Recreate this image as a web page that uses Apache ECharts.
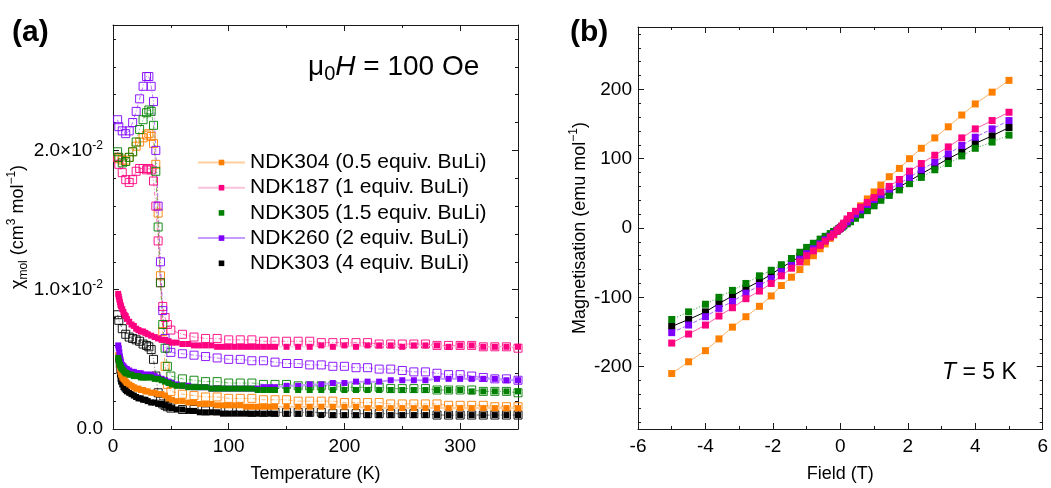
<!DOCTYPE html>
<html><head><meta charset="utf-8">
<script src="https://cdn.jsdelivr.net/npm/echarts@6/dist/echarts.min.js"></script>
<style>html,body{margin:0;padding:0;background:#fff}#c{width:1051px;height:488px}</style>
</head><body><div id="c"></div>
<script>
// ---------- DATA ----------
const sampleNames = ['NDK304 (0.5 equiv. BuLi)','NDK187 (1 equiv. BuLi)','NDK305 (1.5 equiv. BuLi)','NDK260 (2 equiv. BuLi)','NDK303 (4 equiv. BuLi)'];
const sampleColors = ['#ff8000','#ff0080','#008000','#8000ff','#000000'];
const sampleLight = ['#ffcf9e','#f7c4da','#ffffff','#c49bff','#ffffff'];

// panel (a): filled squares
const tempFilled = [4.5,5,5.5,6,6.5,7,8,9,10,11,12,14,16,18,20,22,24,26,28,30,33,36,39,42,45,48,51,55,60,65,70,75,80,85,90,95,100,105,110,115,120,125,130,135,140,150,160,170,180,190,200,210,220,230,240,250,260,270,280,290,300,310,320,330,340,350];
const chiFilled304 = [.0053,.0050,.0046,.0043,.0041,.0039,.0037,.0036,.0035,.0034,.0033,.0032,.0031,.0030,.0029,.0029,.0028,.0028,.0027,.0027,.0026,.0026,.0025,.0025,.0024,.0022,.0021,.0020,.0020,.0019,.0019,.0018,.0018,.0018,.0017,.0017,.0017,.0017,.0017,.0016,.0016,.0016,.0016,.0016,.0016,.0016,.0016,.0016,.0016,.0016,.0016,.0016,.0015,.0015,.0015,.0015,.0015,.0015,.0015,.0015,.0015,.0015,.0015,.0015,.0015,.0015];
const chiFilled187 = [.0097,.0095,.0093,.0091,.0089,.0088,.0086,.0084,.0082,.0081,.0079,.0077,.0075,.0074,.0072,.0071,.0070,.0070,.0069,.0068,.0067,.0066,.0065,.0064,.0064,.0063,.0062,.0062,.0061,.0061,.0060,.0060,.0060,.0060,.0059,.0059,.0059,.0059,.0059,.0059,.0059,.0059,.0059,.0059,.0059,.0059,.0059,.0059,.0060,.0059,.0060,.0059,.0060,.0060,.0060,.0059,.0060,.0060,.0060,.0059,.0060,.0060,.0059,.0059,.0059,.0059];
const chiFilled305 = [.0051,.0049,.0047,.0046,.0045,.0044,.0043,.0042,.0041,.0040,.0040,.0039,.0039,.0038,.0038,.0038,.0037,.0037,.0037,.0037,.0037,.0036,.0036,.0035,.0034,.0033,.0032,.0031,.0031,.0030,.0030,.0030,.0030,.0029,.0029,.0029,.0029,.0029,.0029,.0029,.0029,.0028,.0028,.0028,.0028,.0028,.0028,.0028,.0028,.0028,.0028,.0028,.0028,.0028,.0028,.0028,.0028,.0028,.0028,.0028,.0028,.0027,.0027,.0027,.0027,.0027];
const chiFilled260 = [.0060,.0058,.0055,.0052,.0050,.0048,.0046,.0045,.0044,.0043,.0043,.0042,.0041,.0041,.0040,.0040,.0040,.0039,.0039,.0039,.0039,.0038,.0037,.0036,.0035,.0034,.0033,.0032,.0031,.0031,.0030,.0030,.0030,.0029,.0029,.0029,.0029,.0029,.0029,.0029,.0029,.0029,.0030,.0030,.0030,.0031,.0031,.0032,.0032,.0033,.0033,.0034,.0034,.0034,.0035,.0035,.0035,.0035,.0036,.0036,.0036,.0036,.0036,.0036,.0035,.0035];
const chiFilled303 = [.0050,.0046,.0042,.0039,.0036,.0034,.0032,.0030,.0029,.0028,.0027,.0026,.0025,.0024,.0023,.0022,.0022,.0021,.0021,.0020,.0019,.0019,.0018,.0018,.0017,.0016,.0015,.0014,.0014,.0013,.0013,.0012,.0012,.0012,.0012,.0011,.0011,.0011,.0011,.0011,.0011,.0011,.0011,.0011,.0011,.0011,.0011,.0011,.0010,.0010,.0010,.0010,.0010,.0010,.0010,.0010,.0010,.0010,.0010,.0010,.0010,.0010,.0010,.0010,.0010,.0010];

// panel (a): open squares
const tempOpen = [4,5,8,11,14,17,20,23,26,29,31,33,35,37,39,41,43,45,47,50,60,70,80,90,100,110,120,130,140,150,160,170,180,190,200,210,220,230,240,250,260,270,280,290,300,310,320,330,340,350];
const chiOpen304 = [.0195,.0194,.0193,.0193,.0195,.0199,.0203,.0206,.0209,.0211,.0212,.0210,.0205,.0190,.0155,.0110,.0070,.0045,.0032,.0027,.0025,.0024,.0023,.0023,.0022,.0022,.0022,.0021,.0021,.0021,.0020,.0020,.0020,.0020,.0019,.0019,.0019,.0019,.0018,.0018,.0018,.0018,.0018,.0017,.0017,.0017,.0017,.0016,.0016,.0016];
const chiOpen187 = [.0195,.0190,.0184,.0179,.0177,.0179,.0185,.0187,.0187,.0186,.0187,.0186,.0178,.0160,.0135,.0105,.0088,.0080,.0075,.0071,.0068,.0066,.0065,.0065,.0064,.0064,.0064,.0063,.0063,.0063,.0063,.0063,.0062,.0062,.0062,.0062,.0062,.0061,.0061,.0061,.0061,.0061,.0060,.0060,.0060,.0060,.0059,.0059,.0059,.0058];
const chiOpen305 = [.0199,.0195,.0191,.0192,.0195,.0199,.0206,.0215,.0222,.0227,.0229,.0228,.0218,.0185,.0145,.0105,.0075,.0058,.0045,.0038,.0036,.0035,.0034,.0034,.0033,.0033,.0033,.0032,.0032,.0032,.0031,.0031,.0031,.0031,.0030,.0030,.0030,.0030,.0029,.0029,.0029,.0029,.0028,.0028,.0028,.0028,.0027,.0027,.0027,.0026];
const chiOpen260 = [.0222,.0217,.0214,.0212,.0214,.0220,.0228,.0237,.0246,.0253,.0253,.0246,.0235,.0200,.0160,.0120,.0085,.0065,.0058,.0055,.0054,.0053,.0052,.0051,.0050,.0050,.0049,.0049,.0048,.0047,.0047,.0046,.0046,.0045,.0045,.0044,.0044,.0043,.0043,.0042,.0041,.0041,.0040,.0039,.0039,.0038,.0037,.0036,.0036,.0035];
const chiOpen303 = [.0082,.0078,.0072,.0068,.0066,.0065,.0064,.0063,.0061,.0060,.0059,.0057,.0050,.0038,.0026,.0020,.0018,.0017,.0016,.0015,.0014,.0014,.0013,.0013,.0013,.0013,.0012,.0012,.0012,.0012,.0012,.0012,.0012,.0011,.0011,.0011,.0011,.0011,.0011,.0011,.0011,.0011,.0010,.0010,.0010,.0010,.0010,.0010,.0010,.0010];

// panel (b): magnetisation vs field at 5 K
const fieldT = [-5,-4.5,-4,-3.6,-3.2,-2.8,-2.4,-2.05,-1.75,-1.45,-1.2,-1.0,-0.8,-0.6,-0.45,-0.3,-0.2,-0.1,-0.05,0,0.05,0.1,0.2,0.3,0.45,0.6,0.8,1.0,1.2,1.45,1.75,2.05,2.4,2.8,3.2,3.6,4.0,4.5,5.0];
const mag304 = [-210,-193,-177,-160,-143,-128,-113,-98,-83,-71,-60,-49,-40,-30,-23,-15,-10,-5,-2,0,3,6,11,16,24,32,42,52,62,74,86,100,115,130,146,163,179,196,213];
const mag187 = [-166,-153,-140,-127,-115,-102,-91,-80,-69,-58,-49,-40,-33,-25,-19,-13,-9,-4,-2,0,3,7,13,18,24,30,37,44,52,60,70,82,93,105,117,130,143,155,167];
const mag305 = [-132,-121,-110,-100,-90,-80,-69,-61,-53,-44,-35,-28,-22,-16,-12,-8,-5,-3,-1,0,1,3,6,9,14,19,25,32,40,47,55,64,73,84,93,104,115,124,134];
const mag260 = [-151,-140,-128,-116,-106,-94,-83,-73,-63,-54,-45,-37,-30,-23,-17,-12,-8,-4,-2,0,2,5,9,14,20,26,34,41,48,56,64,73,84,95,107,119,131,143,155];
const mag303 = [-142,-132,-121,-109,-98,-87,-77,-67,-57,-49,-41,-34,-27,-21,-16,-11,-7,-4,-2,0,2,4,8,12,18,24,31,38,45,52,59,68,78,89,100,110,122,133,145];

// ticks
const tempMajor = [0,100,200,300];
const tempMinor = [50,150,250];
const chiMajor = [0,0.01,0.02];
const chiMinor = [0.002,0.004,0.006,0.008,0.012,0.014,0.016,0.018,0.022,0.024,0.026,0.028];
const fieldMajor = [-6,-4,-2,0,2,4,6];
const fieldMinor = [-5,-3,-1,1,3,5];
const magMajor = [-200,-100,0,100,200];
const magMinor = [-280,-260,-240,-220,-180,-160,-140,-120,-80,-60,-40,-20,20,40,60,80,120,140,160,180,220,240,260,280];

// ---------- CHART ----------
const FONT = 'Arial, "Liberation Sans", Helvetica, sans-serif';
const AX = '#1a1a1a';
function makeAxes(dim, gridIndex, min, max, majors, minors, label, nameOpts) {
  const posA = dim === 'x' ? 'bottom' : 'left';
  const posB = dim === 'x' ? 'top' : 'right';
  const mk = (pos, ticks, len, withLine, lab) => ({
    type: 'value', gridIndex, min, max, position: pos, silent: true,
    splitLine: {show: false}, minorTick: {show: false}, minorSplitLine: {show: false},
    axisLine: {show: withLine, onZero: false, lineStyle: {color: AX, width: 1}},
    axisTick: {show: true, inside: true, length: len, customValues: ticks, lineStyle: {color: AX, width: 1}},
    axisLabel: lab ? Object.assign({show: true, customValues: majors}, label) : {show: false}
  });
  const main = Object.assign(mk(posA, majors, 6, true, true), nameOpts);
  return [main, mk(posA, minors, 3, false, false), mk(posB, majors, 6, true, false), mk(posB, minors, 3, false, false)];
}
const baseLabel = {fontSize: 19, color: '#000', fontFamily: FONT};
const supRich = {
  a: {fontSize: 19, lineHeight: 22, fontFamily: FONT, color: '#000'},
  p: {fontSize: 12, lineHeight: 12, verticalAlign: 'top', fontFamily: FONT, color: '#000'}
};
const nameRich = {
  a: {fontSize: 18, lineHeight: 24, fontFamily: FONT, color: '#000'},
  s: {fontSize: 12, lineHeight: 12, verticalAlign: 'bottom', fontFamily: FONT, color: '#000'},
  p: {fontSize: 12, lineHeight: 12, verticalAlign: 'top', fontFamily: FONT, color: '#000'}
};

const xAxes = [].concat(
  makeAxes('x', 0, 0, 350, tempMajor, tempMinor,
    Object.assign({margin: 8, formatter: v => String(v)}, baseLabel),
    {name: 'Temperature (K)', nameLocation: 'middle', nameGap: 36, nameTextStyle: {fontSize: 18, color: '#000', fontFamily: FONT}}),
  makeAxes('x', 1, -6, 6, fieldMajor, fieldMinor,
    Object.assign({margin: 8, formatter: v => String(v)}, baseLabel),
    {name: 'Field (T)', nameLocation: 'middle', nameGap: 36, nameTextStyle: {fontSize: 18, color: '#000', fontFamily: FONT}})
);
const yAxes = [].concat(
  makeAxes('y', 0, 0, 0.029, chiMajor, chiMinor,
    Object.assign({margin: 10, rich: supRich,
      formatter: v => v === 0 ? '0.0' : '{a|' + (v * 100).toFixed(1) + '×10}{p|-2}'}, baseLabel),
    {name: '{a|χ}{s|mol}{a| (cm}{p|3}{a| mol}{p|−1}{a|)}', nameLocation: 'middle', nameGap: 80,
     nameTextStyle: {rich: nameRich, fontSize: 18, color: '#000', fontFamily: FONT}}),
  makeAxes('y', 1, -290, 290, magMajor, magMinor,
    Object.assign({margin: 6, formatter: v => String(v)}, baseLabel),
    {name: '{a|Magnetisation (emu mol}{p|−1}{a|)}', nameLocation: 'middle', nameGap: 46,
     nameTextStyle: {rich: nameRich, fontSize: 18, color: '#000', fontFamily: FONT}})
);

const zip = (xs, ys) => xs.map((x, i) => [x, ys[i]]);
const filledSets = [chiFilled304, chiFilled187, chiFilled305, chiFilled260, chiFilled303];
const openSets = [chiOpen304, chiOpen187, chiOpen305, chiOpen260, chiOpen303];
const magSets = [mag304, mag187, mag305, mag260, mag303];
const filledOrder = [4, 0, 3, 2, 1];
const lineWidths = [2, 1, 0, 2, 0];

const series = [];
// open squares panel a
[4, 0, 1, 3, 2].forEach(i => {
  series.push({
    name: sampleNames[i] + ' open', type: 'line', xAxisIndex: 0, yAxisIndex: 0,
    data: zip(tempOpen, openSets[i]), symbol: 'rect', symbolSize: 8, z: 2,
    itemStyle: {color: 'rgba(255,255,255,0)', borderColor: sampleColors[i], borderWidth: 1, opacity: 0.9},
    lineStyle: {color: sampleColors[i], width: 1, type: [4, 2, 1, 2], opacity: 0.55},
    emphasis: {disabled: true}
  });
});
// filled squares panel a
filledOrder.forEach(i => {
  series.push({
    name: sampleNames[i], type: 'line', xAxisIndex: 0, yAxisIndex: 0,
    data: zip(tempFilled, filledSets[i]), symbol: 'rect', symbolSize: 6, z: 3,
    itemStyle: {color: sampleColors[i]},
    lineStyle: {color: sampleLight[i], width: lineWidths[i]},
    emphasis: {disabled: true}
  });
});
// panel b
const magStyles = [
  {color: '#ffb266', type: 'solid'}, {color: '#ff5aa8', type: 'solid'}, {color: '#2f9a2f', type: [1, 2]},
  {color: '#a35cff', type: [4, 2]}, {color: '#000000', type: 'solid'}
];
[0, 4, 2, 3, 1].forEach(i => {
  series.push({
    name: sampleNames[i] + ' M', type: 'line', xAxisIndex: 4, yAxisIndex: 4,
    data: zip(fieldT, magSets[i]), symbol: 'rect', symbolSize: 7, z: 3,
    itemStyle: {color: sampleColors[i]},
    lineStyle: {color: magStyles[i].color, width: 1, type: magStyles[i].type},
    emphasis: {disabled: true}
  });
});

const chart = echarts.init(document.getElementById('c'), null, {renderer: 'canvas'});
chart.setOption({
  backgroundColor: '#ffffff',
  animation: false,
  textStyle: {fontFamily: FONT},
  grid: [
    {left: 113, top: 25, width: 405, height: 405, containLabel: false},
    {left: 638, top: 27, width: 405, height: 405, containLabel: false}
  ],
  xAxis: xAxes,
  yAxis: yAxes,
  legend: {
    show: true, orient: 'vertical', left: 192, top: 147, itemWidth: 47, itemHeight: 7, itemGap: 4.2,
    selectedMode: false, data: sampleNames,
    textStyle: {fontSize: 21, color: '#000', fontFamily: FONT, lineHeight: 21}
  },
  graphic: [
    {type: 'text', x: 12, y: 33, style: {text: '(a)', font: 'bold 30px ' + FONT, fill: '#000', textVerticalAlign: 'middle', verticalAlign: 'middle'}},
    {type: 'text', x: 570, y: 33, style: {text: '(b)', font: 'bold 30px ' + FONT, fill: '#000', textVerticalAlign: 'middle', verticalAlign: 'middle'}},
    {type: 'text', x: 308, y: 67, style: {
      text: '{n|μ}{s|0}{i|H}{n| = 100 Oe}', fill: '#000', textVerticalAlign: 'middle', verticalAlign: 'middle',
      rich: {
        n: {fontSize: 28, lineHeight: 34, fontFamily: FONT, fill: '#000'},
        s: {fontSize: 20, lineHeight: 20, verticalAlign: 'bottom', fontFamily: FONT, fill: '#000'},
        i: {fontSize: 28, lineHeight: 34, fontStyle: 'italic', fontFamily: FONT, fill: '#000'}
      }}},
    {type: 'text', x: 942, y: 373, style: {
      text: '{i|T}{n| = 5 K}', fill: '#000', textVerticalAlign: 'middle', verticalAlign: 'middle',
      rich: {
        n: {fontSize: 23, lineHeight: 28, fontFamily: FONT, fill: '#000'},
        i: {fontSize: 23, lineHeight: 28, fontStyle: 'italic', fontFamily: FONT, fill: '#000'}
      }}}
  ],
  series: series
});
</script>
</body></html>
